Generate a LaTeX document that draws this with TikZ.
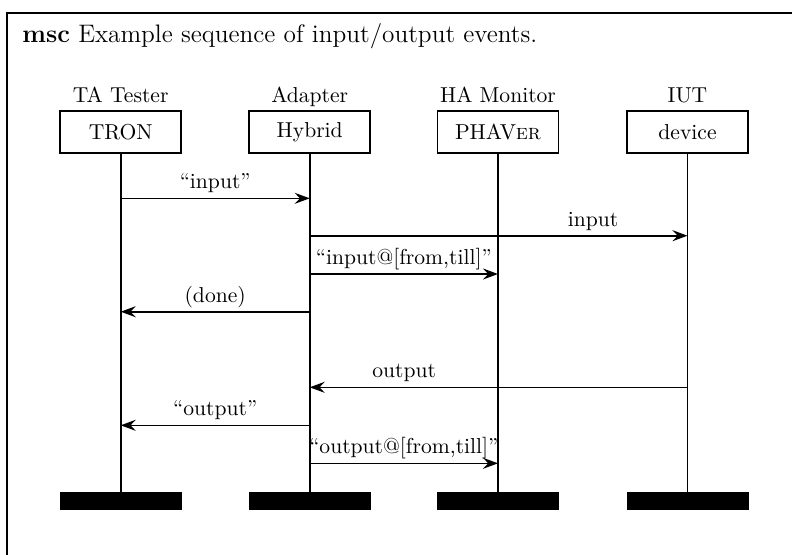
\documentclass[tikz,border=0pt]{standalone}
\usepackage{fontspec}
\usetikzlibrary{arrows.meta}
\begin{document}
\begin{tikzpicture}[x=0.5pt,y=-0.5pt,
  font=\fontsize{10.8pt}{13pt}\selectfont,
  inst/.style={draw, line width=0.8pt, minimum width=60.5pt, minimum height=21pt, inner sep=0pt},
  hdr/.style={anchor=base},
  endbar/.style={fill=black, draw=black, line width=0.3pt, minimum width=60.5pt, minimum height=8.5pt, inner sep=0pt},
  life/.style={line width=0.8pt},
  msg/.style={line width=0.8pt, -{Stealth[length=7.5pt,width=5.5pt,inset=2.6pt]}},
  mlbl/.style={anchor=base, yshift=4.8pt, inner sep=0pt},
]
\useasboundingbox (0,0) rectangle (792,554);
\draw[line width=1pt] (6.7,555) -- (6.7,13) -- (793,13);
\node[anchor=base west, inner sep=0pt, font=\fontsize{12.65pt}{15pt}\selectfont] (title) at (22,42.7) {\textbf{msc} Example sequence of input/output events.};

% instance headers
\node[hdr] (h1) at (120.7,102) {TA Tester};
\node[hdr] (h2) at (309.7,102) {Adapter};
\node[hdr] (h3) at (498,102) {HA Monitor};
\node[hdr] (h4) at (687.5,102) {IUT};

\node[inst] (b1) at (120.7,132) {TRON};
\node[inst] (b2) at (309.7,132) {Hybrid};
\node[inst] (b3) at (498,132) {PHAV\textsc{er}};
\node[inst] (b4) at (687.5,132) {device};

\node[endbar] (e1) at (120.7,500.8) {};
\node[endbar] (e2) at (309.7,500.8) {};
\node[endbar] (e3) at (498,500.8) {};
\node[endbar] (e4) at (687.5,500.8) {};

\draw[life] (b1.south) -- (e1.north);
\draw[life] (b2.south) -- (e2.north);
\draw[life] (b3.south) -- (e3.north);
\draw[life] (b4.south) -- (e4.north);

% message end points on the lifelines
\coordinate (a1) at (120.7,198.3);  \coordinate (a2) at (309.7,198.3);
\coordinate (c2) at (309.7,235.7);  \coordinate (c4) at (687.5,235.7);
\coordinate (d2) at (309.7,274);    \coordinate (d3) at (498,274);
\coordinate (f1) at (120.7,311.7);  \coordinate (f2) at (309.7,311.7);
\coordinate (g2) at (309.7,387.3);  \coordinate (g4) at (687.5,387.3);
\coordinate (k1) at (120.7,425.3);  \coordinate (k2) at (309.7,425.3);
\coordinate (n2) at (309.7,463.3);  \coordinate (n3) at (498,463.3);

\draw[msg] (a1) -- (a2) node[mlbl, pos=0.5] (l1) {``input''};
\draw[msg] (c2) -- (c4) node[mlbl, pos=0.75] (l2) {input};
\draw[msg] (d2) -- (d3) node[mlbl, pos=0.5] (l3) {``input@[from,till]''};
\draw[msg] (f2) -- (f1) node[mlbl, pos=0.5] (l4) {(done)};
\draw[msg] (g4) -- (g2) node[mlbl, pos=0.75] (l5) {output};
\draw[msg] (k2) -- (k1) node[mlbl, pos=0.5] (l6) {``output''};
\draw[msg] (n2) -- (n3) node[mlbl, pos=0.5] (l7) {``output@[from,till]''};
\end{tikzpicture}
\end{document}
